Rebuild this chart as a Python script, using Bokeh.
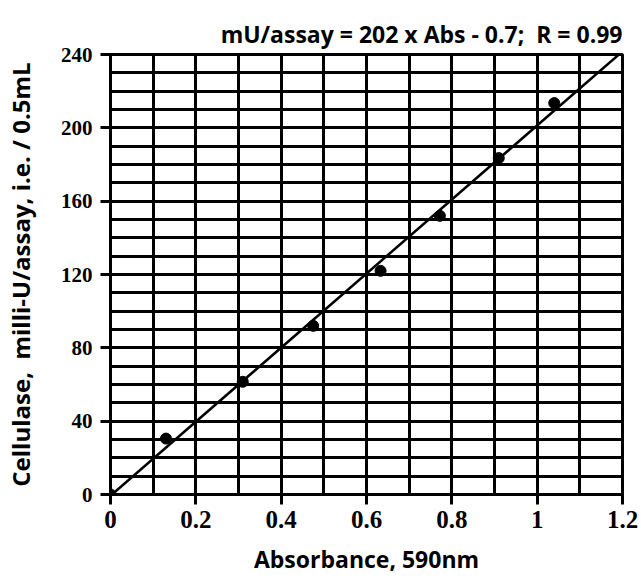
from bokeh.plotting import figure
from bokeh.models import FixedTicker, Range1d, Title
from bokeh.embed import file_html
from bokeh.resources import INLINE

# data
absorbance = [0.0, 0.13, 0.31, 0.475, 0.633, 0.772, 0.91, 1.04]
activity = [0.0, 30.5, 61.5, 92.0, 122.0, 152.0, 183.5, 213.5]
fit_slope = 202
fit_intercept = -0.7
fit_x = [0.0, 1.2]
x_ticks = [0, 0.2, 0.4, 0.6, 0.8, 1.0, 1.2]
x_tick_labels = ["0", "0.2", "0.4", "0.6", "0.8", "1", "1.2"]
y_ticks = [0, 40, 80, 120, 160, 200, 240]
x_grid = [i / 10 for i in range(0, 13)]
y_grid = list(range(0, 250, 10))
title_text = "mU/assay = 202 x Abs - 0.7;\u00a0 R = 0.99"
x_label = "Absorbance, 590nm"
y_label = "Cellulase,\u00a0 milli-U/assay, i.e. / 0.5mL"

p = figure(width=641, height=581, output_backend="svg", toolbar_location=None,
           x_range=Range1d(0, 1.2), y_range=Range1d(0, 240),
           min_border_left=109, min_border_right=19, min_border_top=54, min_border_bottom=87)

p.title = Title(text=title_text, align="right",
                text_font="Open Sans", text_font_size="23px",
                text_font_style="bold", text_color="black")

p.background_fill_color = "white"
p.border_fill_color = "white"
p.outline_line_color = "black"
p.outline_line_width = 3

# grid
p.xgrid.ticker = FixedTicker(ticks=x_grid)
p.ygrid.ticker = FixedTicker(ticks=y_grid)
for g in (p.xgrid, p.ygrid):
    g.grid_line_color = "black"
    g.grid_line_width = 3
    g.grid_line_alpha = 1.0

# axes
p.xaxis.ticker = FixedTicker(ticks=x_ticks)
p.xaxis.major_label_overrides = {t: l for t, l in zip(x_ticks, x_tick_labels)}
p.yaxis.ticker = FixedTicker(ticks=y_ticks)
for ax in (p.xaxis, p.yaxis):
    ax.axis_line_width = 3
    ax.axis_line_color = "black"
    ax.major_tick_line_width = 3
    ax.major_tick_line_color = "black"
    ax.major_tick_in = 0
    ax.major_tick_out = 10
    ax.minor_tick_line_color = None
    ax.major_label_text_font = "Liberation Serif"
    ax.major_label_text_font_style = "bold"
    ax.major_label_text_color = "black"
    ax.axis_label_text_color = "black"
    ax.axis_label_text_font_style = "bold"

p.xaxis.major_label_text_font_size = "25px"
p.yaxis.major_label_text_font_size = "21px"
p.xaxis.major_label_standoff = 6
p.yaxis.major_label_standoff = 8
p.xaxis.axis_label = x_label
p.xaxis.axis_label_text_font = "Open Sans"
p.xaxis.axis_label_text_font_size = "23px"
p.xaxis.axis_label_standoff = 12
p.yaxis.axis_label = y_label
p.yaxis.axis_label_text_font = "Open Sans"
p.yaxis.axis_label_text_font_size = "24px"
p.yaxis.axis_label_standoff = 21

# fit line
fit_y = [fit_slope * x + fit_intercept for x in fit_x]
p.line(fit_x, fit_y, line_color="black", line_width=2.5)

# points
p.scatter(absorbance, activity, size=11, fill_color="black", line_color="black")

open("out.html", "w").write(file_html(p, INLINE))
